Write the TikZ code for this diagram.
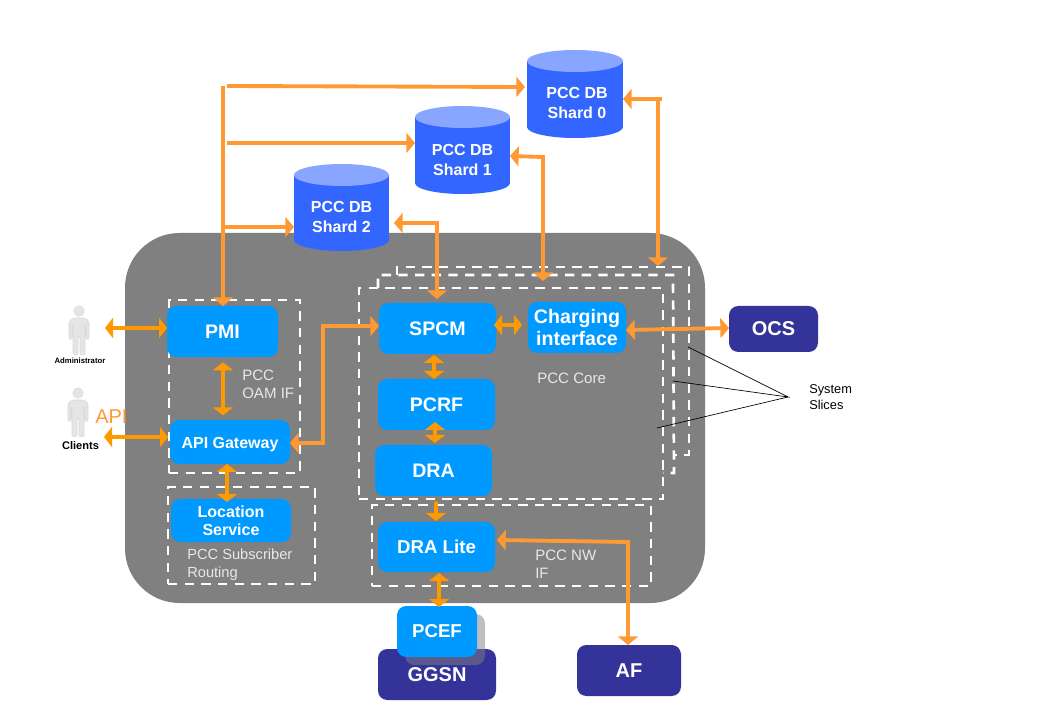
\documentclass[tikz,border=0pt]{standalone}
\usepackage{fontspec}
\setmainfont{Liberation Sans}
\usetikzlibrary{arrows.meta}
\definecolor{cloudgray}{HTML}{808080}
\definecolor{boxblue}{HTML}{0099FF}
\definecolor{navybox}{HTML}{333399}
\definecolor{dbblue}{HTML}{3366FF}
\definecolor{dbtop}{HTML}{88A6FF}
\definecolor{orangeL}{HTML}{FF9933}
\definecolor{orangeD}{HTML}{FF9900}
\definecolor{labelgray}{HTML}{E8E8E8}
\newcommand{\fs}[1]{\fontsize{#1}{#1}\selectfont}
\tikzset{
  x=0.75pt,y=-0.75pt,
  span/.style n args={4}{at={({(#1+#3)/2},{(#2+#4)/2})},minimum width={(#3-(#1))*0.75pt},minimum height={(#4-(#2))*0.75pt}},
  boxbase/.style={inner sep=0pt,outer sep=0pt,rounded corners=7pt,align=center,text=white,font=\bfseries\fs{14.7}},
  bluebox/.style={boxbase,fill=boxblue},
  navy/.style={boxbase,fill=navybox,font=\bfseries\fs{15}},
  dbtext/.style={inner sep=0pt,outer sep=0pt,align=center,text=white,font=\bfseries\fs{12}},
  dashbox/.style={draw=white,line width=2pt,dash pattern=on 7pt off 5.5pt},
  tag/.style={anchor=west,inner sep=0pt,align=left,text=labelgray,font=\fs{11.3}},
  ltip/.style={-{Triangle[length=6.5pt,width=15pt]},line width=2.9pt,draw=orangeL,line join=miter},
  lbi/.style={{Triangle[length=6.5pt,width=15pt]}-{Triangle[length=6.5pt,width=15pt]},line width=2.9pt,draw=orangeL,line join=miter},
  dbi/.style={{Triangle[length=6pt,width=15pt]}-{Triangle[length=6pt,width=15pt]},line width=2.7pt,draw=orangeD},
  dtip/.style={-{Triangle[length=6pt,width=15pt]},line width=2.7pt,draw=orangeD,line cap=round},
  thin line/.style={draw=black,line width=0.5pt},
  figure/.style={fill=black!10,draw=black!15,line width=0.4pt}
}
\newcommand{\dbshape}[4]{% x1 x2 ytop-centre ybottom
  \pgfmathsetmacro{\dbmid}{(#1+#2)/2}
  \pgfmathsetmacro{\dbhr}{(#2-#1)*0.375}
  \fill[dbblue] (#1,#3) rectangle (#2,#4-11);
  \fill[dbblue] (\dbmid,#4-11) ellipse [x radius=\dbhr pt,y radius=8.25pt];
  \fill[dbtop] (\dbmid,#3) ellipse [x radius=\dbhr pt,y radius=8.25pt];
}
\newcommand{\personshape}[2]{% centre x, top y
  \begin{scope}[shift={(#1,#2)}]
    \path[figure] (0,5) circle [radius=3.9pt];
    \path[figure,rounded corners=1.5pt] (-6,12) -- (6,12) -- (10,15) -- (10,33) -- (7,33) -- (7,20) -- (6,20)
      -- (6,49) -- (1,49) -- (1,30) -- (-1,30) -- (-1,49) -- (-6,49) -- (-6,20) -- (-7,20) -- (-7,33) -- (-10,33) -- (-10,15) -- cycle;
  \end{scope}
}
\begin{document}
\begin{tikzpicture}
\useasboundingbox (0,0) rectangle (1040,720);
\fill[white] (0,0) rectangle (1040,720);

% main platform
\node (platform) [inner sep=0pt,outer sep=0pt,fill=cloudgray,rounded corners=41pt,span={125}{233}{705}{603}] {};

% people
\personshape{79}{306}
\begin{scope}
  \clip (60,385) rectangle (100,437);
  \personshape{78}{388}
\end{scope}
\node (adminlabel) [inner sep=0pt,font=\bfseries\fs{5.8}] at (80,360.5) {Administrator};
\node (clientlabel) [inner sep=0pt,font=\bfseries\fs{8.3}] at (80.5,446) {Clients};
\node (apilabel) [anchor=west,inner sep=0pt,text=orangeL,font=\fs{15}] at (95,417) {API};
\coordinate (admin) at (105,328);
\coordinate (clients) at (104,437);

% dashed groups
\node (oamgroup) [dashbox,inner sep=0pt,outer sep=0pt,span={169}{300}{300}{473}] {};
\node (routegroup) [dashbox,inner sep=0pt,outer sep=0pt,span={168}{487}{315}{584}] {};
\draw[dashbox] (397,275) -- (397,267) -- (689,267) -- (689,455) -- (675,455);
\draw[dashbox] (378,288) -- (378,275) -- (673,275) -- (674,473) -- (663,473);
\node (coregroup) [dashbox,inner sep=0pt,outer sep=0pt,span={359}{288}{663}{499}] {};
\node (nwgroup) [dashbox,inner sep=0pt,outer sep=0pt,span={372}{505}{651}{586}] {};

% databases
\dbshape{527}{623}{61}{138}
\dbshape{415}{510}{117}{194}
\dbshape{294}{389}{175}{251}
\node (db0) [dbtext,span={529}{67}{625}{138}] {PCC DB\\[3pt]Shard 0};
\node (db1) [dbtext,span={415}{125}{510}{194}] {PCC DB\\[3pt]Shard 1};
\node (db2) [dbtext,span={294}{182}{389}{251}] {PCC DB\\[3pt]Shard 2};

% outside boxes
\node (ggsn) [navy,span={378}{649}{496}{700}] {GGSN};
\node (af) [navy,span={577}{645}{681}{696}] {\raisebox{-0.6pt}{AF}};
\node (ocs) [navy,span={729}{306}{818}{352}] {OCS};
\fill[gray,opacity=0.5,rounded corners=7pt] (405,614) rectangle (485,665);

% functional boxes
\node (pmi) [bluebox,span={167}{306}{278}{357}] {PMI};
\node (apigw) [bluebox,font=\bfseries\fs{12},span={170}{420}{290}{464},text height=10pt,text depth=0pt] {API Gateway};
\node (loc) [bluebox,font=\bfseries\fs{12},span={171}{499}{291}{542}] {Location\\[1.5pt]Service};
\node (spcm) [bluebox,span={379}{303}{496}{354}] {SPCM};
\node (charging) [bluebox,span={528}{302}{626}{353}] {Charging\\[2.5pt]interface};
\node (pcrf) [bluebox,span={378}{379}{495}{430}] {PCRF};
\node (dra) [bluebox,span={375}{445}{492}{496}] {DRA};
\node (dralite) [bluebox,font=\bfseries\fs{14},span={378}{522}{495}{572}] {DRA Lite};
\node (pcef) [bluebox,font=\bfseries\fs{14},span={397}{606}{477}{657}] {PCEF};

% labels
\node (oamtag) [tag] at (242,384.5) {PCC\\[2.5pt]OAM IF};
\node (coretag) [tag] at (537,378) {PCC Core};
\node (routetag) [tag,font=\fs{11}] at (187,565) {PCC Subscriber\\[2.5pt]Routing};
\node (nwtag) [tag] at (535,564.5) {PCC NW\\[2.5pt]IF};
\node (slices) [anchor=west,inner sep=0pt,align=left,font=\fs{9.6}] at (809,397) {System\\[2.5pt]Slices};

% slice pointers
\coordinate (slicehub) at (788,397);
\coordinate (slice3) at (688,347);
\coordinate (slice2) at (673,381);
\coordinate (slice1) at (657,428);
\draw[thin line] (slice3) -- (slicehub) -- (slice2);
\draw[thin line] (slice1) -- (slicehub);

% DB connectors
\coordinate (bustop) at (223,86);
\coordinate (busa) at (227,86);
\coordinate (busb) at (227,143);
\coordinate (busc) at (223,227);
\draw[ltip] (bustop) -- (bustop |- pmi.north);
\draw[ltip] (busa) -- (525,87);
\draw[ltip] (busb) -- (db1.west |- busb);
\draw[ltip] (busc) -- (db2.west |- busc);
\coordinate (c2a) at (437,223);
\coordinate (c2b) at (437,299);
\draw[lbi] (394,223) -- (c2a) -- (c2b);
\coordinate (c1a) at (543,157);
\coordinate (c1b) at (543,281);
\draw[lbi] (db1.east |- 0,156) -- (c1a) -- (c1b);
\coordinate (c0a) at (658,99);
\coordinate (c0b) at (658,266);
\draw[lbi] (623,99) -- (c0a) -- (c0b);
\draw[line width=2.9pt,draw=orangeL] (c0a) -- (662,99);

% people connectors
\draw[dbi] (admin) -- (pmi.west |- admin);
\draw[dbi] (clients) -- (168,437);

% inner connectors
\draw[dbi,shorten <=4pt,shorten >=3.5pt] (223,357) -- (223,420);
\draw[dbi] (227,464) -- (227,502);
\coordinate (gwa) at (323,443);
\coordinate (gwb) at (323,326);
\draw[lbi] (apigw.east |- gwa) -- (gwa) -- (gwb) -- (spcm.west |- gwb);
\draw[dbi,shorten <=-1.5pt,shorten >=4.5pt] (spcm.east |- 0,325) -- (charging.west |- 0,325);
\draw[lbi] (charging.east |- 0,330) -- (ocs.west |- 0,328);
\draw[dbi] (434,355) -- (434,379);
\draw[dbi] (435,422) -- (435,443);
\draw[dtip] (436,503) -- (436,521);
\draw[dbi] (439,573) -- (439,607);
\coordinate (afa) at (628,542);
\draw[lbi] (497,540) -- (afa) -- (af.north -| afa);
\end{tikzpicture}
\end{document}
